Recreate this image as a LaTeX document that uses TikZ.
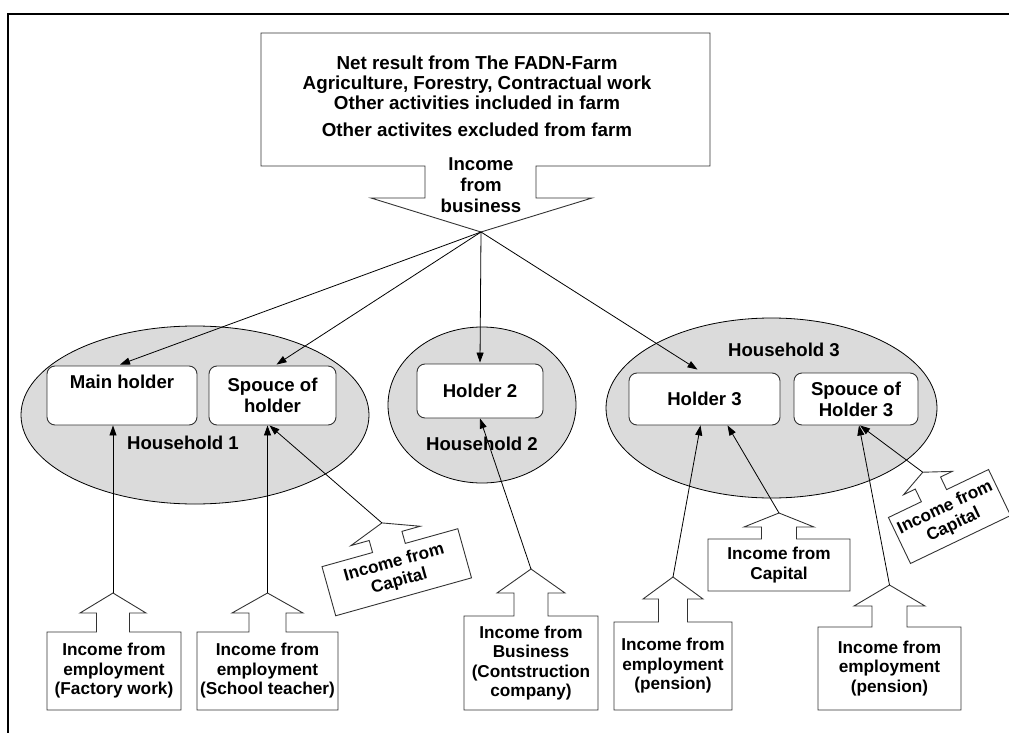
\documentclass[tikz,border=0pt]{standalone}
\usepackage{fontspec}
\setmainfont{Liberation Sans}
\usetikzlibrary{shapes.geometric,arrows.meta,calc}

% parameters of an income box: a text box with an arrow growing out of its top
\pgfkeys{/cb/.is family,/cb,
  w/.store in=\cbW, h/.store in=\cbH,
  sw/.store in=\cbSW, hw/.store in=\cbHW,
  sl/.store in=\cbSL, hl/.store in=\cbHL,
  off/.store in=\cbOff}

% #1 options, #2 name, #3 centre, #4 angle, #5 text
\newcommand\incomebox[5]{%
  \begin{scope}[shift={#3}, rotate=#4, transform shape]
    \pgfkeys{/cb, w=134, h=78, sw=17, hw=34, sl=19, hl=20, off=0, #1}%
    \node[incometext, minimum width=\cbW, minimum height=\cbH] (#2) at (0,0) {#5};
    \draw[boxline]
      (-\cbW/2, \cbH/2) -- (\cbOff-\cbSW, \cbH/2) -- (\cbOff-\cbSW, \cbH/2+\cbSL)
      -- (\cbOff-\cbHW, \cbH/2+\cbSL) -- (\cbOff, \cbH/2+\cbSL+\cbHL) coordinate (#2-tip)
      -- (\cbOff+\cbHW, \cbH/2+\cbSL) -- (\cbOff+\cbSW, \cbH/2+\cbSL)
      -- (\cbOff+\cbSW, \cbH/2) -- (\cbW/2, \cbH/2) -- (\cbW/2, -\cbH/2)
      -- (-\cbW/2, -\cbH/2) -- cycle;
  \end{scope}}

\begin{document}
\begin{tikzpicture}[x=1pt, y=1pt,
    frame/.style={line width=2.5pt, line join=miter},
    boxline/.style={draw=black!80, line width=0.9pt},
    bigtext/.style={font=\bfseries\fontsize{18.8}{20}\selectfont, align=center, inner sep=0pt},
    labeltext/.style={font=\bfseries\fontsize{18.6}{21}\selectfont, align=center, inner sep=0pt},
    incometext/.style={font=\bfseries\fontsize{17.2}{19.5}\selectfont, align=center, inner sep=0pt},
    house/.style={ellipse, draw=black, line width=0.8pt, fill=black!14, inner sep=0pt},
    person/.style={rectangle, rounded corners=8pt, draw=black!80, line width=0.9pt, fill=white,
      font=\bfseries\fontsize{18.6}{21}\selectfont, align=center, inner sep=0pt},
    flow/.style={draw=black, line width=0.8pt, -{Triangle[length=10pt, width=7pt]}}]

\useasboundingbox (0,0) rectangle (1009,-733);

% page frame
\draw[frame] (1009,-14) -- (8,-14) -- (8,-733);

% farm income block with its downward arrow
\draw[boxline] (261,-166) -- (425,-166) -- (425,-198) -- (371,-198)
  -- (481,-232) coordinate (farmtip) -- (592,-198) -- (536,-198) -- (536,-166)
  -- (710,-166) -- (710,-33) -- (261,-33) -- cycle;
\node[bigtext] (farm) at (477,-96)
  {Net result from The FADN-Farm\\Agriculture, Forestry, Contractual work\\
   Other activities included in farm\\[7pt]Other activites excluded from farm};
\node[labeltext] (business) at (481,-185) {Income\\from\\business};

% households
\node[house, minimum width=348, minimum height=178] (hh1) at (195,-415) {};
\node[house, minimum width=188, minimum height=156] (hh2) at (482,-405) {};
\node[house, minimum width=331, minimum height=180] (hh3) at (771.5,-408) {};

\node[labeltext] (hh1label) at (183,-443) {Household 1};
\node[labeltext] (hh2label) at (482,-444) {Household 2};
\node[labeltext] (hh3label) at (784,-350) {Household 3};

% members
\node[person, minimum width=150, minimum height=59] (mh) at (122,-395.5) {Main holder\\\strut};
\node[person, minimum width=127, minimum height=59] (sp) at (272.5,-395.5) {Spouce of\\holder};
\node[person, minimum width=126, minimum height=54] (h2) at (480,-391) {Holder 2};
\node[person, minimum width=151, minimum height=52] (h3) at (704.5,-399) {Holder 3};
\node[person, minimum width=124, minimum height=52] (sh3) at (856,-399) {Spouce of\\Holder 3};

% income from business shared out
\draw[flow] (farmtip) -- ($(mh.north)+(-2,1)$);
\draw[flow] (farmtip) -- ($(sp.north)+(4,1)$);
\draw[flow] (farmtip) -- ($(h2.north)+(0,1)$);
\draw[flow] (farmtip) -- ($(h3.north)+(-7,3)$);

% other income sources
\incomebox{w=134, h=78, sw=16.5, hw=33, sl=19, hl=20, off=-1}{f1}{(114,-671)}{0}
  {Income from\\employment\\(Factory work)}
\incomebox{w=141, h=78, sw=18.5, hw=35.5, sl=19, hl=20, off=0}{f2}{(267.5,-671)}{0}
  {Income from\\employment\\(School teacher)}
\incomebox{w=141, h=51, sw=17, hw=36, sl=12.5, hl=13.5, off=-1}{c1}{(396.75,-572.25)}{15.6}
  {Income from\\Capital}
\incomebox{w=134, h=94, sw=17, hw=34, sl=23, hl=24, off=0}{b2}{(531,-663)}{0}
  {Income from\\Business\\(Contstruction\\company)}
\incomebox{w=118, h=88, sw=14.5, hw=30, sl=23, hl=22, off=0}{p1}{(673,-666)}{0}
  {Income from\\employment\\(pension)}
\incomebox{w=142, h=52, sw=17.5, hw=35, sl=12, hl=14, off=0}{c2}{(779,-565)}{0}
  {Income from\\Capital}
\incomebox{w=143, h=83, sw=17.5, hw=35.5, sl=21, hl=21, off=0}{p2}{(889.5,-668.5)}{0}
  {Income from\\employment\\(pension)}
\incomebox{w=111, h=51, sw=14, hw=27, sl=14, hl=12, off=-5}{c3}{(949.5,-516.5)}{25.6}
  {Income from\\Capital}

\draw[flow] (f1-tip) -- (f1-tip |- mh.south);
\draw[flow] (f2-tip) -- (f2-tip |- sp.south);
\draw[flow] (c1-tip) -- ($(sp.south)+(-3,0)$);
\draw[flow] (b2-tip) -- (h2.south);
\draw[flow] (p1-tip) -- ($(h3.south)+(-4,0)$);
\draw[flow] (c2-tip) -- ($(h3.south)+(23,0)$);
\draw[flow] (p2-tip) -- ($(sh3.south)+(3,0)$);
\draw[flow] (c3-tip) -- ($(sh3.south)+(4,0)$);

\end{tikzpicture}
\end{document}
